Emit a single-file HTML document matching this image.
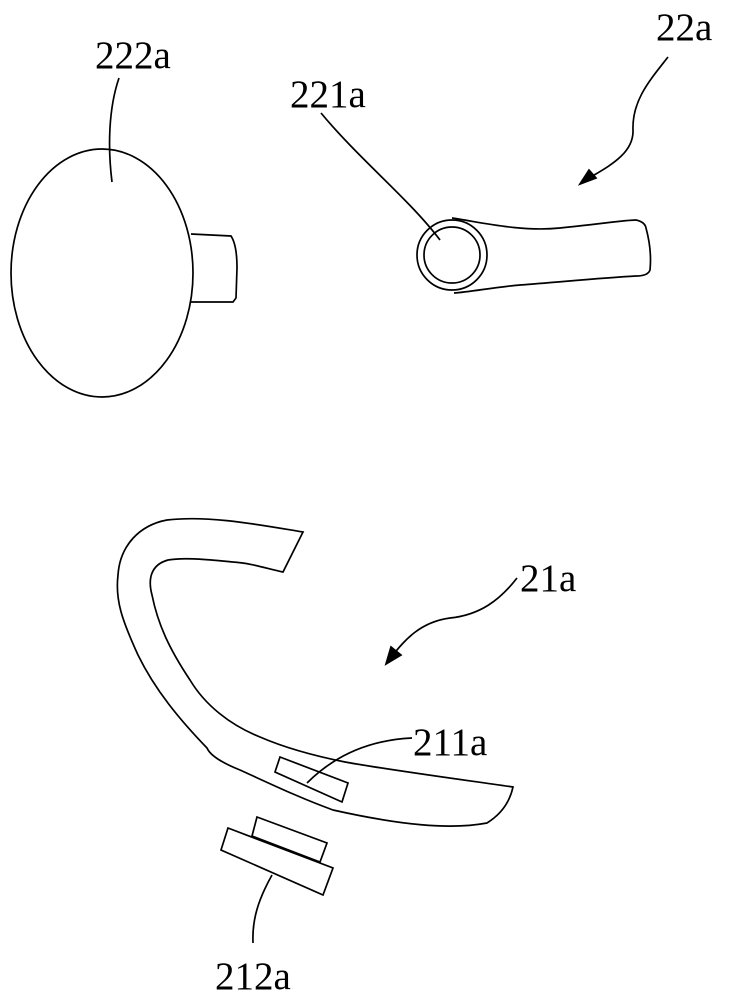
<!DOCTYPE html>
<html><head><meta charset="utf-8"><style>body{margin:0;background:#fff}svg{display:block}</style></head><body>
<svg width="730" height="1000" viewBox="0 0 730 1000" xmlns="http://www.w3.org/2000/svg" fill="none" stroke="#000" stroke-width="1.7">
<g font-family="Liberation Serif, serif" font-size="39" fill="#000" stroke="none">
<text x="95" y="68">222a</text>
<text x="290" y="107">221a</text>
<text x="656" y="40">22a</text>
<text x="520" y="591">21a</text>
<text x="413" y="755">211a</text>
<text x="215" y="989">212a</text>
</g>
<path d="M191,234 L231,236 Q237,245 237,268 L236,298 L233,302 L189,302"/>
<ellipse cx="102" cy="273" rx="91" ry="124" fill="#fff"/>
<path d="M119,78 C108,110 108,150 112,182"/>
<path d="M452,218 C480,222 520,232 560,228 C600,224 625,220 636,220 Q645,222 646,228 Q652,250 650,270 Q648,276 636,276 C600,278 560,282 520,285 C495,287 470,292 454,293"/>
<circle cx="452" cy="255" r="35" fill="#fff"/>
<circle cx="452" cy="255" r="28"/>
<path d="M321,113 C360,160 410,200 440,240"/>
<path d="M668,57 C650,80 632,100 633,130 C634,155 605,168 586,180" />
<polygon points="580,184 589,170 596,178" fill="#000"/>
<path d="M303,532 L283,572 C265,568 250,563 233,562 C210,560 185,557 168,560 C150,565 148,580 152,595 C158,625 170,650 190,680 C205,705 230,725 260,737 C290,750 320,757 345,762 C390,770 450,778 513,787 Q508,810 487,823 C450,830 400,825 333,810 C300,798 273,785 240,770 C220,762 210,755 207,748 C180,720 155,690 138,655 C122,620 115,600 118,575 C120,545 140,525 167,520 C210,515 260,525 303,532 Z"/>
<polygon points="280,757 348,783 342,802 275,772" fill="#fff"/>
<path d="M412,738 C370,740 335,755 307,783"/>
<path d="M517,578 C500,600 480,615 450,618 C420,622 405,640 392,656"/>
<polygon points="386,664 391,647 401,655" fill="#000"/>
<polygon points="257,817 327,843 320,862 252,836" fill="#fff"/>
<polygon points="228,828 333,868 323,895 221,850" fill="#fff"/>
<path d="M272,875 C258,900 252,920 253,943"/>
</svg>
</body></html>
